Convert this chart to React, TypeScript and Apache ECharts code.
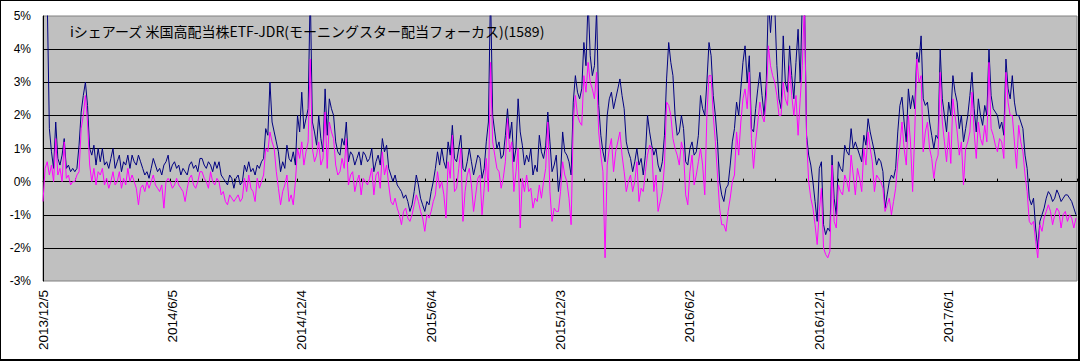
import React, { useEffect, useRef } from "react";
import * as echarts from "echarts";

const TITLE = "iシェアーズ 米国高配当株ETF-JDR(モーニングスター配当フォーカス)(1589)";

// x tick labels (trading-day index = position * LABEL_EVERY)
const X_LABELS = ["2013/12/5", "2014/6/5", "2014/12/4", "2015/6/4", "2015/12/3", "2016/6/2", "2016/12/1", "2017/6/1"];
const LABEL_EVERY = 122; // trading days between labels
const TICK_EVERY = 30; // trading days between tick marks
const LAST_DAY = 975; // last trading-day index
const STEP = 2; // trading days per sample below

// y axis (%)
const Y_MIN = -3;
const Y_MAX = 5;

// navy series (%), one sample every STEP trading days (15 samples per row)
const NAVY = [
  6.5, 6.5, 5.5, 1.6, 0.9, 0.4, 1.8, 0.7, 0.5, 0.8, 1.3, 0.4, 0.5, 0.3, 0.4,
  0.3, 0.4, 1.1, 2.1, 2.6, 3.0, 2.3, 1.0, 0.8, 1.1, 0.5, 1.0, 0.6, 1.0, 0.5,
  0.6, 0.4, 0.7, 1.0, 0.4, 0.6, 0.8, 0.3, 0.6, 0.5, 0.8, 0.4, 0.8, 0.6, 0.5,
  0.8, 0.6, 0.4, 0.2, 0.3, 0.1, 0.4, 0.7, 0.5, 0.3, 0.4, 0.2, 0.5, 0.6, 0.8,
  0.3, 0.5, 0.6, 0.4, 0.5, 0.2, 0.4, 0.3, 0.2, 0.5, 0.6, 0.4, 0.5, 0.3, 0.7,
  0.7, 0.5, 0.4, 0.6, 0.5, 0.3, 0.6, 0.4, 0.6, 0.2, 0.1, 0.0, -0.1, 0.2, 0.1,
  -0.2, 0.1, 0.2, -0.1, 0.0, 0.5, 0.3, 0.6, 0.3, 0.4, 0.2, 0.5, 0.4, 0.6, 0.7,
  1.6, 1.4, 3.0, 1.8, 1.5, 1.2, 0.9, 0.3, 0.6, 0.4, 1.1, 0.7, 0.6, 0.9, 0.5,
  2.0, 1.5, 2.7, 1.6, 1.9, 2.2, 5.8, 1.8, 1.5, 1.1, 2.0, 1.3, 0.9, 2.8, 1.4,
  2.5, 2.2, 2.0, 1.2, 0.9, 0.8, 1.3, 1.1, 1.8, 0.6, 0.9, 0.8, 0.5, 0.7, 0.9,
  0.5, 0.9, 0.8, 0.6, 0.7, 1.0, 0.3, 0.6, 0.8, 0.5, 1.3, 0.9, 1.1, 0.4, 0.2,
  0.0, 0.2, -0.1, -0.2, -0.3, -0.5, -0.4, -0.6, -0.9, -0.7, -0.3, 0.2, -0.1, -0.5, -0.7,
  -0.9, -0.6, -0.7, -0.3, 0.0, 0.4, 0.9, 0.5, 1.0, 0.6, 0.4, 1.2, 0.8, 1.7, 0.7,
  0.6, 1.0, 1.4, 0.4, 0.3, 0.6, 1.0, 0.6, 0.2, 0.5, 0.8, 0.7, 0.1, 0.4, 1.2,
  1.8, 5.8, 2.0, 1.5, 1.0, 1.2, 0.7, 0.8, 1.4, 2.2, 1.3, 1.8, 0.6, 1.0, 2.5,
  1.5, 1.1, 0.5, 0.8, 0.6, 1.0, 0.2, 0.5, 0.3, 1.4, 0.9, 0.7, 1.1, 2.1, 1.2,
  0.3, 0.5, 0.8, -0.3, 0.2, 1.5, 0.9, 0.8, 0.6, 0.2, 2.4, 3.2, 2.7, 2.5, 2.8,
  4.2, 3.5, 5.5, 3.8, 3.2, 3.5, 5.2, 2.3, 1.4, 0.9, 0.6, 2.0, 2.5, 2.7, 2.2,
  2.5, 2.8, 3.1, 2.6, 2.2, 1.2, 0.9, 0.7, 0.3, 0.6, 1.0, 0.5, 0.7, 0.2, 0.8,
  2.0, 1.5, 1.1, 0.8, 1.0, 0.5, 0.3, 0.6, 1.4, 3.1, 4.2, 3.6, 3.2, 2.0, 1.4,
  1.5, 2.0, 1.6, 0.6, 0.5, 1.0, 1.2, 0.8, 0.9, 1.4, 2.6, 2.2, 2.0, 3.0, 4.2,
  3.8, 2.6, 2.0, 1.2, 0.0, -0.4, -0.6, -0.2, -0.1, 0.5, 1.2, 1.6, 2.4, 2.0, 2.8,
  3.6, 4.1, 3.0, 3.8, 1.6, 1.5, 2.2, 2.8, 3.3, 2.6, 2.0, 3.0, 5.5, 4.5, 5.5,
  5.3, 3.5, 2.5, 2.2, 4.4, 3.0, 2.7, 4.1, 3.2, 2.5, 3.6, 4.6, 3.0, 5.5, 5.6,
  1.4, 0.8, 0.5, 0.0, -0.6, -1.2, 0.4, 0.6, -1.3, -1.6, -1.4, -1.5, 0.8, -0.5, -1.0,
  0.6, 0.4, 0.3, 1.1, 0.9, 0.8, 1.6, 1.0, 1.2, 1.0, 0.8, 0.6, 1.4, 1.1, 1.9,
  1.5, 1.2, 0.9, 0.5, 0.7, 0.6, 0.3, -0.8, -0.4, 0.0, 0.2, 0.1, 0.4, 1.5, 2.3,
  2.55, 1.8, 1.2, 2.8, 2.2, 2.6, 2.2, 3.9, 3.6, 4.4, 2.5, 2.3, 2.4, 1.8, 1.4,
  1.0, 1.4, 1.3, 4.0, 2.5, 2.0, 1.5, 2.4, 2.0, 3.2, 2.7, 2.4, 1.6, 2.0, 1.2,
  1.6, 2.0, 2.6, 3.3, 2.2, 1.5, 2.5, 2.0, 1.7, 2.3, 2.0, 4.0, 2.6, 2.2, 2.1,
  2.0, 1.6, 1.8, 1.4, 3.7, 2.8, 2.5, 3.2, 2.4, 2.0, 2.0, 1.8, 1.6, 0.8, 0.4,
  -0.5, -0.7, -0.5, -1.4, -2.0, -1.2, -1.0, -0.8, -0.5, -0.3, -0.4, -0.6, -0.5, -0.25, -0.4,
  -0.6, -0.5, -0.4, -0.4, -0.5, -0.6, -0.8, -1.0,
];

// magenta series (%), one sample every STEP trading days (15 samples per row)
const MAGENTA = [
  -0.6, 0.4, 0.6, 0.2, 0.5, 0.0, 1.3, 0.2, 0.4, 0.0, 1.2, 0.1, 0.2, -0.1, 0.0,
  0.0, 0.2, 0.3, 1.6, 2.0, 2.6, 1.8, 0.5, 0.0, 0.4, -0.1, 0.3, 0.2, 0.4, -0.1,
  0.1, -0.2, 0.0, 0.3, -0.1, 0.0, 0.3, -0.2, 0.1, -0.1, 0.4, 0.0, 0.2, 0.0, -0.2,
  -0.7, -0.2, -0.1, -0.3, 0.0, -0.2, 0.0, 0.2, -0.1, -0.2, -0.3, -0.1, -0.8, 0.0, 0.1,
  0.0, -0.2, -0.1, 0.1, -0.1, -0.2, -0.3, -0.6, -0.2, 0.1, 0.2, -0.1, -0.2, 0.0, 0.3,
  0.3, 0.1, 0.0, -0.2, 0.3, 0.0, -0.1, 0.1, 0.0, -0.4, -0.3, -0.6, -0.7, -0.4, -0.5,
  -0.6, -0.5, -0.4, -0.6, -0.5, 0.1, -0.3, 0.2, -0.2, -0.3, -0.6, 0.1, -0.2, 0.0, 0.2,
  1.0, 0.9, 1.5, 1.2, 1.0, 0.3, -0.2, -0.7, -0.3, -0.1, 0.2, -0.6, -0.4, -0.7, 0.0,
  1.0, 0.7, 1.2, 0.5, 0.9, 1.2, 3.7, 1.0, 0.6, 0.8, 1.2, 0.5, 0.7, 2.1, 0.4,
  1.8, 1.5, 1.3, 0.5, 0.2, 0.3, 0.7, 0.4, 1.3, -0.1, 0.2, 0.3, -0.3, 0.0, 0.2,
  -0.4, 0.1, 0.0, -0.1, 0.1, 0.4, -0.4, 0.2, 0.3, -0.2, 0.9, 0.2, 0.5, -0.1, -0.6,
  -0.7, -0.5, -0.8, -1.0, -1.3, -0.9, -0.8, -1.1, -1.2, -1.0, -0.7, -0.4, -0.6, -0.9, -1.1,
  -1.5, -1.0, -1.1, -0.9, -0.6, -0.4, 0.3, -0.2, 0.0, -0.4, -1.1, 0.6, 0.1, 1.4, -0.3,
  -0.2, 0.4, 1.0, -1.2, -0.3, 0.2, 0.4, -0.1, -0.9, -0.4, 0.1, 0.2, -1.0, -0.2, 0.7,
  -0.3, 3.6, 1.2, 0.8, 0.4, 0.3, -0.2, 0.1, 0.6, 1.9, 0.9, 1.2, -0.3, 0.3, 1.0,
  -1.4, 0.1, -0.3, 0.2, -0.3, -0.2, -0.8, -0.5, -0.6, -0.1, -0.5, 0.0, 0.4, 1.8, -0.3,
  -1.2, -0.8, -0.9, -0.9, -0.3, 0.6, 0.2, 0.0, -0.5, -1.3, 1.8, 2.6, 2.0, 1.8, 1.7,
  3.2, 2.7, 3.6, 3.0, 2.8, 2.5, 3.3, 1.5, 0.8, 0.3, -2.3, 0.5, 1.0, 1.3, 0.3,
  0.9, 1.2, 1.5, 0.8, 0.3, -0.3, 0.0, 0.2, -0.3, 0.0, 0.6, -0.6, -0.2, -0.3, 0.3,
  0.8, 1.1, 1.0, -0.3, 0.2, -0.9, -0.6, -0.3, 0.5, 2.4, 2.3, 2.0, 1.3, 1.0, 0.8,
  0.5, 1.2, 0.9, -0.4, -0.7, 0.3, 0.8, -0.1, 0.2, 0.6, 1.0, 0.5, -0.4, 2.0, 3.2,
  3.2, 2.0, 1.2, 0.2, -0.8, -1.3, -1.3, -1.5, -0.9, -0.5, 0.0, 0.2, 1.5, 0.8, 1.8,
  2.5, 2.8, 2.2, 3.3, 1.3, 0.4, 1.2, 1.8, 2.4, 2.0, 1.8, 2.5, 4.1, 3.5, 3.2,
  3.0, 2.6, 2.0, 2.0, 3.0, 2.5, 2.3, 3.5, 2.6, 2.0, 2.6, 1.4, 2.5, 3.5, 5.5,
  1.3, 0.0, -0.5, -0.8, -1.3, -1.9, -0.9, -0.2, -2.0, -2.2, -2.3, -2.1, 0.5, -1.2, -1.4,
  -0.1, -0.3, -0.4, 0.2, 0.0, -0.3, 0.8, 0.2, -0.4, 0.4, 0.1, -0.3, 1.0, 0.5, 1.5,
  1.0, 0.6, -0.3, 0.2, 0.1, 0.0, -0.2, -0.9, -0.7, -0.5, -1.0, -0.6, -0.2, 0.6, 1.1,
  1.8, 1.0, 0.5, 2.0, 1.2, -0.3, 1.5, 3.7, 3.0, 3.2, 0.9, 1.5, 1.8, 1.0, 0.7,
  0.1, 0.6, 0.8, 3.3, 1.8, 1.2, 0.6, 1.5, 0.55, 2.5, 2.0, 1.5, 0.8, 1.2, -0.1,
  1.0, 1.2, 1.5, 2.7, 1.5, 0.7, 1.8, 1.3, 1.1, 1.7, 1.2, 3.6, 1.6, 1.4, 1.1,
  0.9, 1.3, 1.2, 0.7, 3.3, 2.4, 2.0, 2.0, 1.2, 0.4, 1.7, 1.2, 0.9, 0.2, -0.3,
  -1.2, -1.3, -1.2, -1.8, -2.3, -1.3, -1.5, -1.1, -0.9, -0.7, -0.9, -1.3, -1.0, -0.8, -0.9,
  -1.4, -1.0, -0.9, -1.2, -1.0, -1.1, -1.4, -1.1,
];

const toPairs = (vals: number[]) => vals.map((v, i) => [i * STEP, v]);

export default function App() {
  const ref = useRef<HTMLDivElement>(null);

  useEffect(() => {
    if (!ref.current) return;
    const chart = echarts.init(ref.current, null, { renderer: "svg" });
    const labelFont = "'Liberation Sans', Arial, sans-serif";
    chart.setOption({
      animation: false,
      backgroundColor: "#ffffff",
      title: {
        text: TITLE,
        left: 70,
        top: 24,
        padding: 0,
        textStyle: {
          fontSize: 14,
          fontWeight: "normal",
          color: "#000000",
          fontFamily: "'Noto Sans CJK JP', sans-serif",
        },
      },
      grid: {
        left: 43,
        right: 4,
        top: 16,
        bottom: 80,
        show: true,
        backgroundColor: "#c0c0c0",
        borderColor: "#808080",
        borderWidth: 1,
      },
      xAxis: [
        {
          type: "value",
          min: 0,
          max: LAST_DAY,
          interval: LABEL_EVERY,
          position: "bottom",
          axisLine: { show: false, onZero: false },
          axisTick: { show: false },
          splitLine: { show: false },
          axisLabel: {
            rotate: 90,
            margin: 9,
            fontSize: 13.5,
            color: "#000000",
            fontFamily: labelFont,
            showMaxLabel: false,
            formatter: (v: number) => (v % LABEL_EVERY === 0 ? X_LABELS[v / LABEL_EVERY] ?? "" : ""),
          },
        },
        {
          type: "value",
          min: 0,
          max: LAST_DAY,
          interval: TICK_EVERY,
          position: "bottom",
          axisLine: { show: true, onZero: true, lineStyle: { color: "#000000", width: 1 } },
          axisTick: { show: true, inside: true, length: 3, lineStyle: { color: "#000000" } },
          axisLabel: { show: false },
          splitLine: { show: false },
        },
      ],
      yAxis: {
        type: "value",
        min: Y_MIN,
        max: Y_MAX,
        interval: 1,
        axisLine: { show: true, lineStyle: { color: "#000000", width: 1 } },
        axisTick: { show: false },
        splitLine: { show: true, showMinLine: false, showMaxLine: false, lineStyle: { color: "#000000", width: 1 } },
        axisLabel: {
          margin: 12,
          fontSize: 12,
          color: "#000000",
          fontFamily: labelFont,
          formatter: (v: number) => `${v}%`,
        },
      },
      series: [
        {
          type: "line",
          name: "navy",
          xAxisIndex: 0,
          data: toPairs(NAVY),
          showSymbol: false,
          symbol: "none",
          clip: true,
          lineStyle: { color: "#000080", width: 1 },
          itemStyle: { color: "#000080" },
          z: 3,
        },
        {
          type: "line",
          name: "magenta",
          xAxisIndex: 0,
          data: toPairs(MAGENTA),
          showSymbol: false,
          symbol: "none",
          clip: true,
          lineStyle: { color: "#ff00ff", width: 1 },
          itemStyle: { color: "#ff00ff" },
          z: 4,
        },
      ],
    });
    return () => chart.dispose();
  }, []);

  return (
    <div style={{ position: "fixed", left: 0, top: 0, width: 1081, height: 361, background: "#ffffff" }}>
      <div ref={ref} style={{ position: "absolute", left: 0, top: 0, width: 1081, height: 361 }} />
      <div
        style={{
          position: "absolute",
          left: 0,
          top: 0,
          width: 1080,
          height: 361,
          boxSizing: "border-box",
          borderTop: "1px solid #000",
          borderLeft: "1px solid #000",
          borderRight: "2px solid #000",
          borderBottom: "2px solid #000",
          pointerEvents: "none",
        }}
      />
    </div>
  );
}
